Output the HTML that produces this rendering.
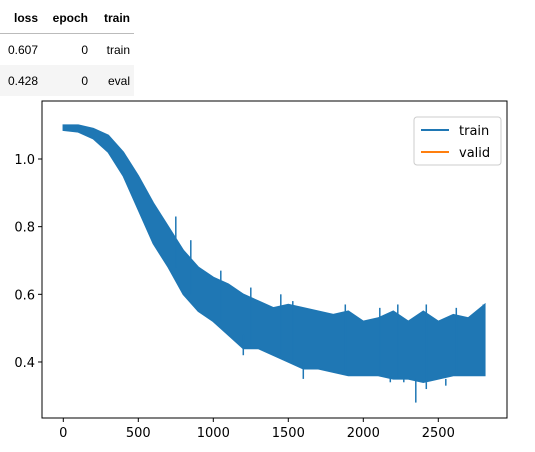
<!DOCTYPE html>
<html><head><meta charset="utf-8"><style>
body{margin:0;background:#fff;width:535px;height:452px;overflow:hidden;font-family:"Liberation Sans","DejaVu Sans",sans-serif}
table{position:absolute;left:0;top:2px;border-collapse:collapse;font-size:12px;color:#000}
th,td{text-align:right;padding:0 4px;height:31px}
th{font-weight:bold;border-bottom:1px solid #bbb}
tr.odd td{background:#f5f5f5}
</style></head><body>
<table>
<tr><th style="width:34px">loss</th><th style="width:42px">epoch</th><th style="width:34px">train</th></tr>
<tr><td>0.607</td><td>0</td><td>train</td></tr>
<tr class="odd"><td>0.428</td><td>0</td><td>eval</td></tr>
</table>
<svg id="chart" width="535" height="452" style="position:absolute;left:0;top:0"></svg>
<script>
const steps=[0,100,200,300,400,500,600,700,800,900,1000,1100,1200,1300,1400,1500,1600,1700,1800,1900,2000,2100,2200,2300,2400,2500,2600,2700,2810];
const lowVals=[1.085,1.08,1.06,1.02,0.95,0.85,0.75,0.68,0.60,0.55,0.52,0.48,0.44,0.44,0.42,0.40,0.38,0.38,0.37,0.36,0.36,0.36,0.35,0.35,0.34,0.35,0.36,0.36,0.36];
const highVals=[1.10,1.10,1.09,1.07,1.02,0.95,0.87,0.80,0.73,0.68,0.65,0.63,0.60,0.58,0.56,0.57,0.56,0.55,0.54,0.55,0.52,0.53,0.55,0.52,0.55,0.52,0.54,0.53,0.57];
const dipSteps=[1200,1600,1900,2180,2270,2350,2420,2550];
const dipVals=[0.42,0.35,0.36,0.34,0.34,0.28,0.32,0.33];
const peakSteps=[750,850,1050,1250,1450,1530,1880,2110,2230,2420,2620,2800];
const peakVals=[0.83,0.76,0.67,0.62,0.60,0.58,0.57,0.56,0.57,0.57,0.56,0.57];
const xTicks=[0,500,1000,1500,2000,2500];
const yTicks=[0.4,0.6,0.8,1.0];
const NS='http://www.w3.org/2000/svg';
const svg=document.getElementById('chart');
const X=v=>63.3+v*0.15;
const Y=v=>159-(v-1.0)*338.3;
function mk(t,a){const e=document.createElementNS(NS,t);for(const k in a)e.setAttribute(k,a[k]);svg.appendChild(e);return e;}
let pts=steps.map((s,i)=>X(s)+','+Y(highVals[i]));
for(let i=steps.length-1;i>=0;i--)pts.push(X(steps[i])+','+Y(lowVals[i]));
const band=mk('polygon',{points:pts.join(' '),fill:'#1f77b4',stroke:'#1f77b4','stroke-width':1.5});


function seg(s){let j=0;while(j<steps.length-2&&steps[j+1]<s)j++;return j;}
dipSteps.forEach((s,i)=>{
  const j=seg(s);
  const l=mk('line',{x1:X(s),x2:X(s),y1:Y(lowVals[j]),y2:Y(dipVals[i]),stroke:'#1f77b4','stroke-width':1.5});
  
  
});
peakSteps.forEach((s,i)=>{
  const j=seg(s);
  const l=mk('line',{x1:X(s),x2:X(s),y1:Y(lowVals[j]),y2:Y(peakVals[i]),stroke:'#1f77b4','stroke-width':1.5});
  
  
});
const ax=mk('rect',{x:42,y:101,width:465,height:317,fill:'none',stroke:'#000','stroke-width':1});


xTicks.forEach(t=>{
  mk('line',{x1:X(t),x2:X(t),y1:418,y2:422,stroke:'#000'});
  const tx=mk('text',{x:X(t),y:437,'text-anchor':'middle','font-size':13,'font-family':'DejaVu Sans,sans-serif'});
  tx.textContent=t;
  
  
});
yTicks.forEach(t=>{
  mk('line',{x1:38,x2:42,y1:Y(t),y2:Y(t),stroke:'#000'});
  const tx=mk('text',{x:35,y:Y(t)+5,'text-anchor':'end','font-size':13,'font-family':'DejaVu Sans,sans-serif'});
  tx.textContent=t.toFixed(1);
  
  
});
const lg=mk('rect',{x:414,y:117,width:87,height:48,rx:3,fill:'#fff',stroke:'#ccc'});


[['train','#1f77b4',130],['valid','#ff7f0e',152]].forEach(([n,c,y])=>{
  mk('line',{x1:421,x2:449,y1:y,y2:y,stroke:c,'stroke-width':2});
  const tx=mk('text',{x:459,y:y+5,'font-size':13,'font-family':'DejaVu Sans,sans-serif'});
  tx.textContent=n;
  
  
});
</script>
</body></html>
